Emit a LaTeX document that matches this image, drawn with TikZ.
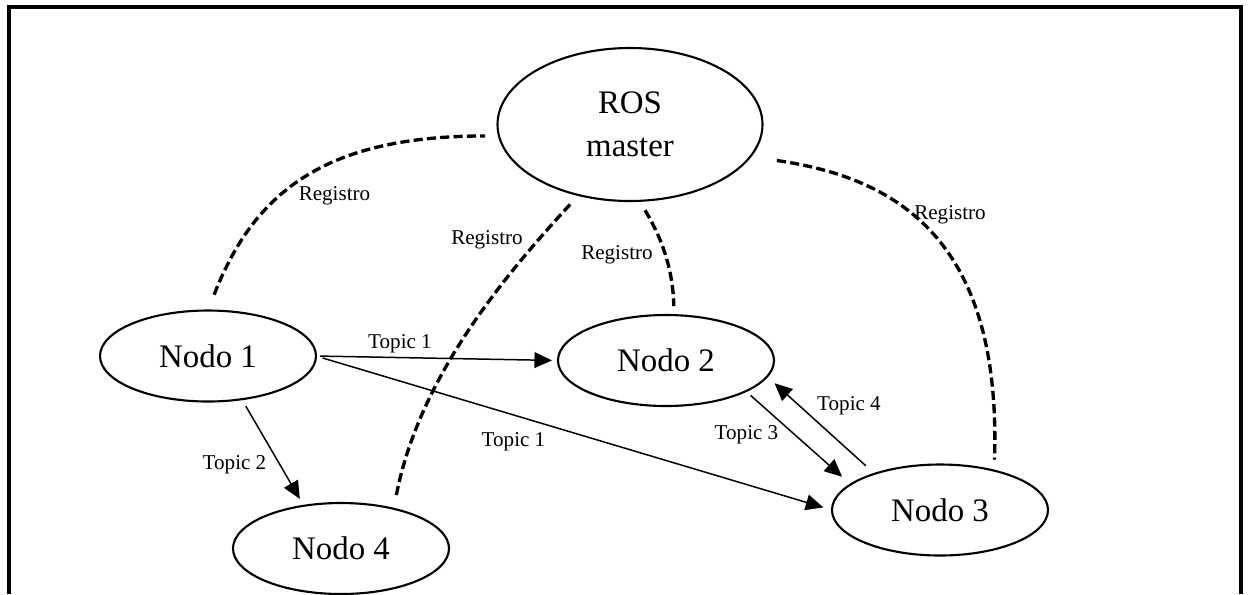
\documentclass[tikz,border=0pt]{standalone}
\usepackage{fontspec}
\setmainfont{Liberation Serif}
\usetikzlibrary{arrows.meta,positioning,shapes}

\begin{document}
\begin{tikzpicture}[
        nodo/.style={draw, ellipse, line width=1.2pt, inner sep=0pt, outer sep=0pt, minimum width=4.32cm, minimum height=1.82cm, align=center, font=\fontsize{18.7pt}{24.4pt}\selectfont},
        arrow/.style={-{Triangle[length=10pt,width=9pt]}, line width=0.85pt},
        registro/.style={line width=1.9pt, dash pattern=on 5.2pt off 2.4pt},
        lbl/.style={inner sep=0pt, font=\fontsize{12pt}{14pt}\selectfont}
    ]
        \useasboundingbox (0,0) rectangle (24.96,-11.88);
        % Frame
        \draw[line width=1.8pt] (0.18,-11.88) |- (24.82,-0.14) -- (24.82,-11.88);

        % Nodes
        \node[nodo, minimum width=5.3cm, minimum height=3.06cm] (master) at (12.6,-2.49) {ROS\\master};
        \node[nodo] (nodo1) at (4.16,-7.12) {Nodo 1};
        \node[nodo] (nodo2) at (13.32,-7.21) {Nodo 2};
        \node[nodo] (nodo3) at (18.8,-10.2) {Nodo 3};
        \node[nodo] (nodo4) at (6.82,-10.97) {Nodo 4};

        % Registro
        \draw[registro, shorten <=0.34cm, shorten >=0.28cm] (nodo1.north) .. controls +(0.95,2.45) and +(-3.38,0) .. (master.185);
        \draw[registro, shorten <=0.28cm, shorten >=0.22cm] (nodo4.37) .. controls +(0.5,2.58) and +(-1.57,-1.7) .. (master.234);
        \draw[registro, shorten <=0.22cm, shorten >=0.18cm] (master.-83) .. controls +(0.41,-0.68) and +(-0.02,0.98) .. (nodo2.80);
        \draw[registro, shorten <=0.54cm, shorten >=0.22cm] (master.-15) .. controls +(3.15,-0.45) and +(0.14,4.42) .. (nodo3.36);

        \node[lbl] (reg1) at (6.69,-3.92) {Registro};
        \node[lbl] (reg2) at (9.74,-4.8) {Registro};
        \node[lbl] (reg3) at (12.34,-5.1) {Registro};
        \node[lbl] (reg4) at (19.0,-4.3) {Registro};

        % Topics
        \draw[arrow, shorten <=0.08cm, shorten >=0.12cm] (nodo1.east) -- (nodo2.west);
        \draw[arrow, shorten <=0.14cm, shorten >=0.18cm] (nodo1.east) -- (nodo3.west);
        \draw[arrow, shorten <=0.16cm, shorten >=0.16cm] (nodo1.-52) -- (nodo4.131);
        \draw[arrow, shorten <=0.13cm, shorten >=0.23cm] (nodo2.-21) -- (nodo3.164);
        \draw[arrow, shorten <=0.24cm, shorten >=0.2cm] (nodo3.151) -- (nodo2.-9);

        \node[lbl] (topic1a) at (8.0,-6.88) {Topic 1};
        \node[lbl] (topic1b) at (10.27,-8.84) {Topic 1};
        \node[lbl] (topic2) at (4.69,-9.3) {Topic 2};
        \node[lbl] (topic3) at (14.93,-8.7) {Topic 3};
        \node[lbl] (topic4) at (16.98,-8.12) {Topic 4};
    \end{tikzpicture}
\end{document}
